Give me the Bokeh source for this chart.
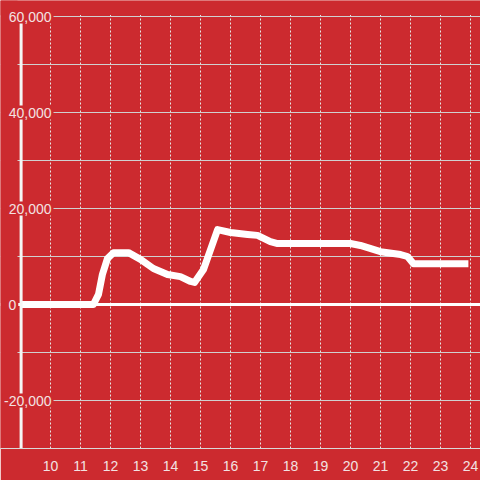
from bokeh.plotting import figure
from bokeh.models import FixedTicker, Span, Label, Range1d, BoxAnnotation
from bokeh.embed import file_html
from bokeh.resources import INLINE

hours = [9.0, 11.43, 11.6, 11.73, 11.9, 12.1, 12.6, 13.0, 13.43, 13.9, 14.33, 14.67, 14.8,
         15.1, 15.57, 16.0, 16.57, 16.9, 17.33, 17.57, 20.0, 20.33, 21.0, 21.67, 21.9, 22.1, 23.93]
values = [0, 0, 2100, 6250, 9600, 10800, 10800, 9400, 7500, 6250, 5800, 4800, 4600,
          7300, 15600, 15000, 14600, 14400, 13100, 12700, 12700, 12300, 11000, 10400, 10000, 8500, 8500]
x_ticks = list(range(10, 25))
y_grid = [-20000, -10000, 10000, 20000, 30000, 40000, 50000, 60000]
y_label_vals = [60000, 40000, 20000, 0, -20000]
y_label_txt = ["60,000", "40,000", "20,000", "0", "-20,000"]

RED = "#cc2a2f"
TXT = "#f3e2e2"
FONT = "Liberation Sans"

X0, X1 = 9.0, 24.3333
Y0, Y1 = -30000, 60000
PX = 1 / 30  # data units per pixel along x

p = figure(width=480, height=480, output_backend="svg", toolbar_location=None,
           x_range=Range1d(X0 - 20 * PX, X1), y_range=Range1d(Y0, Y1 + 16 * 90000 / 432),
           y_axis_location=None, min_border_left=0, min_border_right=0,
           min_border_top=0, min_border_bottom=32)
p.background_fill_color = RED
p.border_fill_color = RED
p.outline_line_color = None

p.xaxis.ticker = FixedTicker(ticks=x_ticks)
p.xaxis.major_tick_line_color = None
p.xaxis.minor_tick_line_color = None
p.xaxis.axis_line_color = "#d9d9d9"
p.xaxis.axis_line_width = 1
p.xaxis.major_label_text_color = TXT
p.xaxis.major_label_text_font = FONT
p.xaxis.major_label_text_font_size = "14px"
p.xaxis.major_label_standoff = 6

p.xgrid.ticker = FixedTicker(ticks=x_ticks)
p.xgrid.grid_line_color = "#e6e6e6"
p.xgrid.grid_line_dash = "2 2"
p.xgrid.grid_line_width = 1
p.ygrid.ticker = FixedTicker(ticks=y_grid)
p.ygrid.grid_line_color = "#d0d0d0"
p.ygrid.grid_line_width = 1

p.add_layout(Span(location=0, dimension="width", line_color="white", line_width=3, level="underlay"))

# mask the area outside the plotting region (left of the axis, above the top)
p.add_layout(BoxAnnotation(right=X0 - 3 * PX, fill_color=RED, fill_alpha=1, line_color=None, level="glyph"))
p.add_layout(BoxAnnotation(bottom=Y1 + 300, fill_color=RED, fill_alpha=1, line_color=None, level="glyph"))

p.line(hours, values, line_color="white", line_width=7, line_join="round")

# left axis line
p.segment(x0=[X0 + 0.02], y0=[Y0], x1=[X0 + 0.02], y1=[Y1], line_color="#f5f5f5", line_width=3)

for v, t in zip(y_label_vals, y_label_txt):
    if t == "0":
        lbl = Label(x=X0 - 14 * PX, y=v, text=t, text_align="left", text_baseline="middle")
    else:
        lbl = Label(x=10.1, y=v, text=t, text_align="right", text_baseline="middle")
    lbl.update(text_color=TXT, text_font=FONT, text_font_size="14px",
               background_fill_color=RED, padding=2)
    p.add_layout(lbl)

open("out.html", "w").write(file_html(p, INLINE))
